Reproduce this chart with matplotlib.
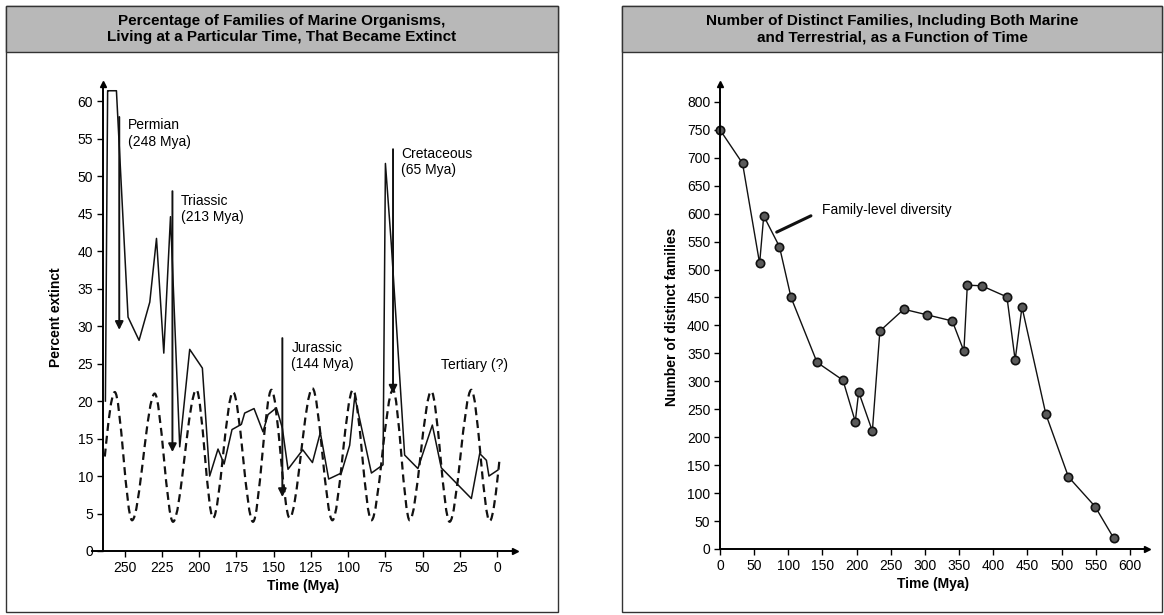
import numpy as np
import matplotlib
matplotlib.use("Agg")
import matplotlib.pyplot as plt
from matplotlib.path import Path
from matplotlib.patches import PathPatch, Rectangle

plt.rcParams['font.family'] = ['Liberation Sans', 'DejaVu Sans']

# ---- left panel: percent of marine families extinct ----
extinct_time = [263, 261.5, 261.2, 255.6, 247.8, 240.4, 233.2, 228.7, 223.8, 219.3,
                213.1, 206.4, 197.9, 193, 187.4, 183.3, 178, 171.7, 169.5, 163.2,
                157.2, 153.8, 148.2, 144.2, 140.4, 130.5, 124, 118.7, 113.1, 104.6,
                99, 95.6, 84.4, 76.6, 75, 71, 62.1, 53.2, 43.5, 37.5,
                17.3, 11.7, 7.2, 5.5, -0.5]
extinct_pct = [20, 61.4, 61.4, 61.4, 31.2, 28.1, 33.2, 41.7, 26.4, 44.6,
               13.9, 26.9, 24.4, 10, 13.6, 11.6, 16.2, 16.9, 18.4, 19,
               15.9, 18.2, 19.1, 16.4, 10.9, 13.5, 11.8, 15.8, 9.6, 10.4,
               14.1, 20.6, 10.4, 11.5, 51.7, 40.8, 12.8, 11, 16.8, 11.1,
               7.0, 13, 12.1, 10, 10.8]

# periodic (26 My) curve: start, peaks/troughs, end
cycle_time = [263.4, 256.7, 245.1, 229.9, 217.6, 201.9, 190.7, 177.3, 163.9, 151.5,
              139.3, 124, 110.6, 96.8, 84.4, 69.9, 58.7, 44.2, 31.9, 17.3, 5, -1.7]
cycle_pct = [12.6, 21.2, 4.1, 21, 3.9, 21.5, 4.4, 21.2, 3.9, 21.5,
             4.4, 21.7, 4.1, 21.5, 4.1, 21.5, 4.1, 21.3, 3.9, 21.5, 4.0, 12.4]

events = ["Permian\n(248 Mya)", "Triassic\n(213 Mya)", "Jurassic\n(144 Mya)",
          "Cretaceous\n(65 Mya)"]
event_arrow_t = [253.7, 218, 144.2, 69.9]
event_arrow_top = [57.9, 48, 28.4, 53.6]
event_arrow_tip = [29.5, 13.2, 7.2, 21]
event_label_t = [247.8, 212.4, 138.1, 64.3]
event_label_v = [55.7, 45.6, 26.0, 51.9]

# ---- right panel: number of distinct families ----
family_time = [0, 33, 58, 64, 87, 104, 142, 180, 198, 203, 223, 234, 269, 303,
               340, 357, 362, 383, 420, 432, 442, 477, 510, 549, 576]
family_count = [750, 690, 511, 596, 541, 450, 334, 302, 228, 281, 211, 390, 429, 419,
                408, 354, 472, 471, 451, 338, 433, 241, 129, 76, 20]

W, H = 1164, 615
fig = plt.figure(figsize=(W / 100, H / 100), dpi=100)
fig.patch.set_facecolor('white')


def panel(x0, x1, title):
    # frame and grey title band, in pixel units
    fig.add_artist(Rectangle((x0 / W, 3 / H), (x1 - x0) / W, 606 / H,
                             transform=fig.transFigure, fill=False, lw=1, ec='#333'))
    fig.add_artist(Rectangle((x0 / W, 563 / H), (x1 - x0) / W, 46 / H,
                             transform=fig.transFigure, fc='#b8b8b8', lw=1, ec='#333'))
    fig.text((x0 + x1) / 2 / W, 586 / H, title, ha='center', va='center',
             fontsize=11, fontweight='bold', linespacing=1.2)


def style_axes(ax, xpos):
    for s in ['top', 'right']:
        ax.spines[s].set_visible(False)
    ax.spines['left'].set_position(('data', xpos))
    ax.spines['left'].set_linewidth(1.4)
    ax.spines['bottom'].set_linewidth(1.4)
    ax.tick_params(direction='out', length=4, width=1, labelsize=10, pad=3)
    ax.plot(1, 0, '>k', ms=5, transform=ax.transAxes, clip_on=False)
    ax.plot(xpos, 1, '^k', ms=5, transform=ax.get_xaxis_transform(), clip_on=False)


def smooth_curve(ts, vs):
    # cubic segments, flat at peaks/troughs
    n = len(ts)
    slopes = np.zeros(n)
    slopes[0] = np.pi / 2 * (vs[1] - vs[0]) / (ts[1] - ts[0])
    slopes[-1] = np.pi / 2 * (vs[-1] - vs[-2]) / (ts[-1] - ts[-2])
    verts = [(ts[0], vs[0])]
    codes = [Path.MOVETO]
    for i in range(n - 1):
        d = ts[i + 1] - ts[i]
        verts += [(ts[i] + d / 3, vs[i] + slopes[i] * d / 3),
                  (ts[i + 1] - d / 3, vs[i + 1] - slopes[i + 1] * d / 3),
                  (ts[i + 1], vs[i + 1])]
        codes += [Path.CURVE4] * 3
    return Path(verts, codes)


# left panel
panel(6, 558, "Percentage of Families of Marine Organisms,\n"
              "Living at a Particular Time, That Became Extinct")
axL = fig.add_axes([92 / W, 64 / H, 423 / W, 467 / H])
axL.set_xlim(272, -12)
axL.set_ylim(0, 62.3)
style_axes(axL, 264.8)
axL.set_xticks(np.arange(250, -1, -25))
axL.set_yticks(np.arange(0, 61, 5))
axL.set_xlabel("Time (Mya)", fontsize=10, fontweight='bold', labelpad=3)
axL.set_ylabel("Percent extinct", fontsize=10, fontweight='bold', labelpad=10)

axL.add_patch(PathPatch(smooth_curve(cycle_time, cycle_pct), fill=False, ec='#111',
                        lw=1.6, linestyle=(0, (3.6, 2.2))))
axL.plot(extinct_time, extinct_pct, color='#111', lw=1.1)

for name, at, top, tip, lt, lv in zip(events, event_arrow_t, event_arrow_top,
                                      event_arrow_tip, event_label_t, event_label_v):
    axL.annotate('', xy=(at, tip), xytext=(at, top),
                 arrowprops=dict(arrowstyle='-|>', lw=1.4, color='#111',
                                 mutation_scale=12, shrinkA=0, shrinkB=0))
    axL.text(lt, lv, name, fontsize=10, ha='left', va='center', linespacing=1.2)
axL.text(37.4, 24.8, "Tertiary (?)", fontsize=10, ha='left', va='center')

# right panel
panel(622, 1162, "Number of Distinct Families, Including Both Marine\n"
                 "and Terrestrial, as a Function of Time")
axR = fig.add_axes([720 / W, 66 / H, 427 / W, 465 / H])
axR.set_xlim(0, 625)
axR.set_ylim(0, 832)
style_axes(axR, 0)
axR.set_xticks(np.arange(0, 601, 50))
axR.set_yticks(np.arange(0, 801, 50))
axR.set_xlabel("Time (Mya)", fontsize=10, fontweight='bold', labelpad=3)
axR.set_ylabel("Number of distinct families", fontsize=10, fontweight='bold', labelpad=6)

axR.plot(family_time, family_count, color='#111', lw=1, marker='o', ms=6,
         mfc='#5a5a5a', mec='#111', mew=1.2, clip_on=False)
axR.annotate("Family-level diversity", xy=(83, 567), xytext=(150, 606),
             fontsize=10, va='center', ha='left',
             arrowprops=dict(arrowstyle='-', lw=2.2, color='#111',
                             shrinkA=7, shrinkB=0,
                             relpos=(0, 0.5)))

fig.savefig("out.png", dpi=100)
